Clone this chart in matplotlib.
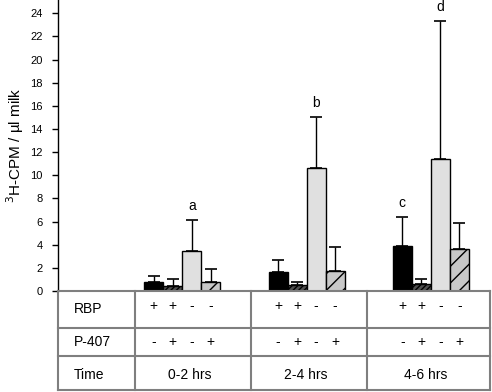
import matplotlib
matplotlib.use("Agg")
import matplotlib.pyplot as plt
import numpy as np

plt.rcParams['font.family'] = ['Liberation Sans', 'DejaVu Sans']

# ---- data ----
time_labels = ["0-2 hrs", "2-4 hrs", "4-6 hrs"]
rbp_signs = ["+", "+", "-", "-"]
p407_signs = ["-", "+", "-", "+"]
row_labels = ["RBP", "P-407", "Time"]
means = {
    "RBP+/P407-": [0.8, 1.65, 3.85],
    "RBP+/P407+": [0.42, 0.5, 0.6],
    "RBP-/P407-": [3.5, 10.6, 11.4],
    "RBP-/P407+": [0.8, 1.75, 3.65],
}
err_tops = {
    "RBP+/P407-": [1.3, 2.7, 6.4],
    "RBP+/P407+": [1.0, 0.8, 1.0],
    "RBP-/P407-": [6.1, 15.0, 23.3],
    "RBP-/P407+": [1.9, 3.8, 5.9],
}
sig_letters = ["a", "b", "d"]   # above RBP-/P407- bars
sig_letter_c = "c"               # above RBP+/P407- bar in 4-6 hrs

W, H = 492, 392
fig = plt.figure(figsize=(W / 100, H / 100), dpi=100)

ax_l, ax_r, ax_b, ax_t = 58, 490, 291, 0
ax = fig.add_axes([ax_l / W, (H - ax_b) / H, (ax_r - ax_l) / W, (ax_b - ax_t) / H])

series = list(means.keys())
styles = [
    dict(color="black", hatch=None),
    dict(color="#505050", hatch="//////"),
    dict(color="#e0e0e0", hatch=None),
    dict(color="#c8c8c8", hatch="//"),
]
centers = np.array([1, 2, 3])
bw = 0.153
offsets = (np.arange(4) - 1.5) * bw

plt.rcParams['hatch.linewidth'] = 1.0
for i, s in enumerate(series):
    x = centers + offsets[i]
    m = np.array(means[s])
    e = np.array(err_tops[s]) - m
    ax.bar(x, m, width=bw, facecolor=styles[i]["color"], edgecolor="black",
           linewidth=1.0, hatch=styles[i]["hatch"], zorder=2)
    ax.errorbar(x, m, yerr=[np.zeros_like(e), e], fmt="none", ecolor="black",
                elinewidth=1.0, capsize=4, capthick=1.2, zorder=1)

for j, letter in enumerate(sig_letters):
    ax.text(centers[j] + offsets[2], err_tops["RBP-/P407-"][j] + 0.6, letter,
            ha="center", va="bottom", fontsize=10)
ax.text(centers[2] + offsets[0], err_tops["RBP+/P407-"][2] + 0.6, sig_letter_c,
        ha="center", va="bottom", fontsize=10)

ax.set_xlim(0, 3.476)
ax.set_ylim(0, 25.15)
ax.set_yticks(np.arange(0, 25, 2))
ax.tick_params(axis="y", labelsize=8, length=4, width=1, pad=7)
ax.set_xticks([])
for sp in ["top", "right"]:
    ax.spines[sp].set_visible(False)
ax.spines["bottom"].set_visible(False)
ax.spines["left"].set_linewidth(1.0)
fig.text(15 / W, (H - 145) / H, "$^{3}$H-CPM / µl milk", rotation=90,
         ha="center", va="center", fontsize=11)

# ---- table below axes (pixel coordinates) ----
tab = fig.add_axes([0, 0, 1, 1], facecolor="none")
tab.set_xlim(0, W)
tab.set_ylim(H, 0)
tab.axis("off")
gray = "#7f7f7f"
col_x = [58, 135, 251, 367, 490]
row_y = [291, 328, 356, 390]
for yv in row_y:
    tab.plot([col_x[0], col_x[-1]], [yv, yv], color=gray, lw=1.5)
for xv in col_x:
    tab.plot([xv, xv], [row_y[0], row_y[-1]], color=gray, lw=1.5)

row_c = [309, 342, 375]
for k, lab in enumerate(row_labels):
    tab.text(74, row_c[k], lab, ha="left", va="center", fontsize=10)

def data_to_px(xd):
    return ax_l + (xd - 0) / 3.476 * (ax_r - ax_l)

for j in range(3):
    for i in range(4):
        px = data_to_px(centers[j] + offsets[i])
        tab.text(px, 306, rbp_signs[i], ha="center", va="center", fontsize=10)
        tab.text(px, 342, p407_signs[i], ha="center", va="center", fontsize=10)
    cx = (col_x[j + 1] + col_x[j + 2]) / 2
    tab.text(cx - 3, row_c[2], time_labels[j], ha="center", va="center", fontsize=10)

fig.savefig("out.png", dpi=100)
